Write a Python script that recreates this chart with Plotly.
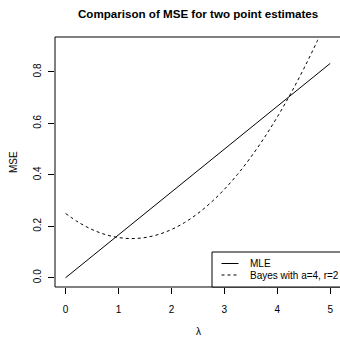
import plotly.graph_objects as go

# Data
lam_mle = [0, 1, 2, 3, 4, 5]
mse_mle = [0.0, 0.1667, 0.3333, 0.5, 0.6667, 0.8333]

lam_bayes = [0, 0.25, 0.5, 0.75, 1.0, 1.25, 1.5, 1.75, 2.0, 2.25, 2.5, 2.75,
             3.0, 3.25, 3.5, 3.75, 4.0, 4.25, 4.5, 4.75, 5.0]
mse_bayes = [0.25, 0.2148, 0.1875, 0.168, 0.1563, 0.1523, 0.1563, 0.168, 0.1875,
             0.2148, 0.25, 0.293, 0.3438, 0.4023, 0.4688, 0.543, 0.625, 0.7148,
             0.8125, 0.918, 1.0313]

x_ticks = [0, 1, 2, 3, 4, 5]
y_ticks = [0.0, 0.2, 0.4, 0.6, 0.8]
legend_labels = ["MLE", "Bayes with a=4, r=2"]

FONT = "Liberation Sans, Arial, Helvetica, sans-serif"
W, H = 340, 337
L, R, T, B = 55, 0, 37, 50
PW, PH = W - L - R, H - T - B

def px(x):
    return (x - L) / PW

def py(y):
    return (H - B - y) / PH

fig = go.Figure()
fig.add_trace(go.Scatter(x=lam_mle, y=mse_mle, mode="lines",
                         line=dict(color="black", width=1), showlegend=False))
fig.add_trace(go.Scatter(x=lam_bayes, y=mse_bayes, mode="lines", line_shape="spline",
                         line=dict(color="black", width=1, dash="3px,3px"),
                         showlegend=False))

shapes = [
    # plot box (right edge outside the canvas, as in the reference)
    dict(type="rect", xref="paper", yref="paper", x0=0, x1=1.05, y0=0, y1=1,
         line=dict(color="black", width=1)),
    # legend box
    dict(type="rect", xref="paper", yref="paper", x0=px(212), x1=1.05, y0=0, y1=py(252),
         line=dict(color="black", width=1), fillcolor="white", layer="above"),
    dict(type="line", xref="paper", yref="paper", x0=px(221.5), x1=px(238.5),
         y0=py(263.5), y1=py(263.5), line=dict(color="black", width=1)),
    dict(type="line", xref="paper", yref="paper", x0=px(221.5), x1=px(238.5),
         y0=py(275), y1=py(275), line=dict(color="black", width=1, dash="3px,3px")),
]

annotations = [
    dict(text="<b>Comparison of MSE for two point estimates</b>", xref="paper", yref="paper",
         x=px(197.8), y=py(14), xanchor="center", yanchor="middle", showarrow=False,
         font=dict(family=FONT, size=11.6, color="black")),
    dict(text="MSE", xref="paper", yref="paper", x=px(13), y=py(162), textangle=-90,
         xanchor="center", yanchor="middle", showarrow=False,
         font=dict(family=FONT, size=10, color="black")),
    dict(text="λ", xref="paper", yref="paper", x=px(198), y=py(331),
         xanchor="center", yanchor="middle", showarrow=False,
         font=dict(family=FONT, size=10, color="black")),
    dict(text=legend_labels[0], xref="paper", yref="paper", x=px(248), y=py(263.5),
         xanchor="left", yanchor="middle", showarrow=False,
         font=dict(family=FONT, size=10, color="black")),
    dict(text=legend_labels[1], xref="paper", yref="paper", x=px(248), y=py(275),
         xanchor="left", yanchor="middle", showarrow=False,
         font=dict(family=FONT, size=10, color="black")),
]

fig.update_layout(
    width=W, height=H,
    margin=dict(l=L, r=R, t=T, b=B, pad=0),
    paper_bgcolor="white", plot_bgcolor="white",
    shapes=shapes, annotations=annotations,
    showlegend=False,
    xaxis=dict(range=[-0.2, 5.185], tickvals=x_ticks, ticktext=[str(v) for v in x_ticks],
               ticks="outside", ticklen=6, tickwidth=1, tickcolor="black",
               ticklabelstandoff=7,
               showgrid=False, zeroline=False, showline=False,
               tickfont=dict(family=FONT, size=10, color="black")),
    yaxis=dict(range=[-0.036, 0.936], tickvals=y_ticks,
               ticktext=[f"{v:.1f}" for v in y_ticks], tickangle=-90,
               ticks="outside", ticklen=6, tickwidth=1, tickcolor="black",
               ticklabelstandoff=3,
               showgrid=False, zeroline=False, showline=False,
               tickfont=dict(family=FONT, size=10, color="black")),
)

fig.write_html("out.html", config={"displayModeBar": False},
               post_script="document.body.style.margin='0px';document.body.style.overflow='hidden';")
